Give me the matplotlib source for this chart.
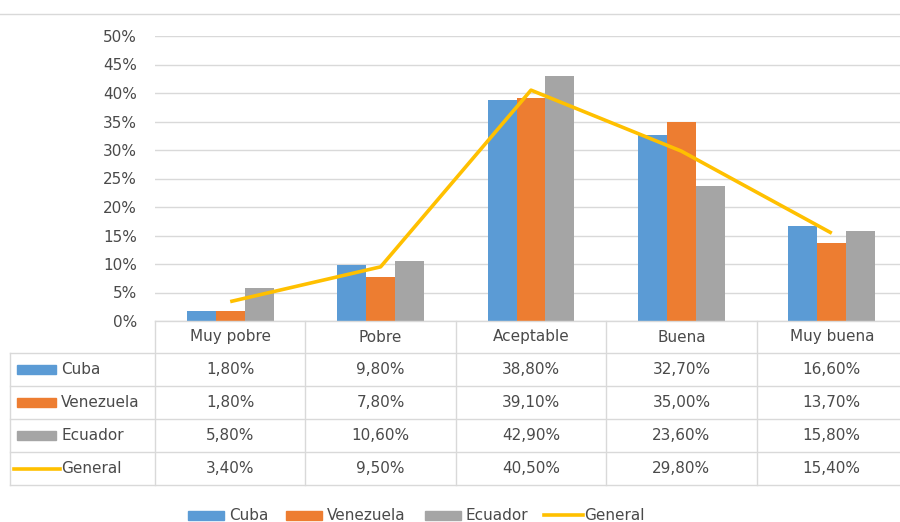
import matplotlib
matplotlib.use('Agg')
import matplotlib.pyplot as plt
from matplotlib.lines import Line2D
from matplotlib.patches import Rectangle
from matplotlib.transforms import blended_transform_factory
import numpy as np

categories = ['Muy pobre', 'Pobre', 'Aceptable', 'Buena', 'Muy buena']
cuba = [1.8, 9.8, 38.8, 32.7, 16.6]
venezuela = [1.8, 7.8, 39.1, 35.0, 13.7]
ecuador = [5.8, 10.6, 42.9, 23.6, 15.8]
general = [3.4, 9.5, 40.5, 29.8, 15.4]
series_names = ['Cuba', 'Venezuela', 'Ecuador', 'General']
colors = ['#5B9BD5', '#ED7D31', '#A5A5A5', '#FFC000']
yticks = [0, 5, 10, 15, 20, 25, 30, 35, 40, 45, 50]

W, H = 900, 522
fig = plt.figure(figsize=(W / 100, H / 100), dpi=100)
plt.rcParams['font.family'] = 'DejaVu Sans'
txt = '#4a4a4a'
grid = '#D9D9D9'
fs = 11

def fx(px):
    return px / W

def fy(py):
    return 1 - py / H

# plot area (runs past the right edge, as in the cropped original)
left, right, top, bottom = 155, 907, 36, 321
ax = fig.add_axes([fx(left), fy(bottom), fx(right - left), (bottom - top) / H])

x = np.arange(len(categories))
bw = 1 / (3 + 2.19)
for i, vals in enumerate([cuba, venezuela, ecuador]):
    ax.bar(x + (i - 1) * bw, vals, bw, color=colors[i], zorder=2)
ax.plot(x, general, color=colors[3], lw=2.6, zorder=3, solid_capstyle='butt')

ax.set_xlim(-0.5, len(categories) - 0.5)
ax.set_ylim(0, 50)
ax.set_yticks(yticks)
ax.set_yticklabels([f'{t}%' for t in yticks], color=txt, fontsize=fs)
ax.tick_params(axis='y', length=0, pad=13)
ax.set_xticks([])
ax.grid(axis='y', color=grid, lw=1, zorder=0)
for s in ax.spines.values():
    s.set_visible(False)

# top border line
fig.add_artist(Line2D([0, 1], [fy(13.5), fy(13.5)], color=grid, lw=1))

# data table
tr = blended_transform_factory(ax.transData, fig.transFigure)
row_lines = [321, 353, 386, 419, 452, 485]
tab_left = 9.5
for k, yl in enumerate(row_lines):
    x0 = fx(left) if k == 0 else fx(tab_left)
    fig.add_artist(Line2D([x0, 1], [fy(yl), fy(yl)], color=grid, lw=1))
fig.add_artist(Line2D([fx(tab_left)] * 2, [fy(353), fy(485)], color=grid, lw=1))
for b in np.arange(len(categories) + 1) - 0.5:
    fig.add_artist(Line2D([b, b], [fy(321), fy(485)], color=grid, lw=1, transform=tr))

for i, c in enumerate(categories):
    fig.text(x[i], fy(337), c, transform=tr, ha='center', va='center', color=txt, fontsize=fs)

rows = [cuba, venezuela, ecuador, general]
for r, vals in enumerate(rows):
    yc = (row_lines[r + 1] + row_lines[r + 2]) / 2
    for i, v in enumerate(vals):
        s = f'{v:.2f}%'.replace('.', ',')
        fig.text(x[i], fy(yc), s, transform=tr, ha='center', va='center', color=txt, fontsize=fs)
    if r < 3:
        fig.add_artist(Rectangle((fx(17), fy(yc + 4.5)), fx(39), 9 / H, color=colors[r]))
    else:
        fig.add_artist(Line2D([fx(14), fx(60)], [fy(yc), fy(yc)], color=colors[r], lw=2.6))
    fig.text(fx(61), fy(yc), series_names[r], ha='left', va='center', color=txt, fontsize=fs)

# bottom legend
leg_y = 515
leg = [(188, 229), (286, 327), (425, 465), (544, 584)]
for r, (kx, tx) in enumerate(leg):
    if r < 3:
        fig.add_artist(Rectangle((fx(kx), fy(leg_y + 4.5)), fx(36), 9 / H, color=colors[r]))
    else:
        fig.add_artist(Line2D([fx(kx), fx(kx + 39)], [fy(leg_y), fy(leg_y)], color=colors[r], lw=2.6))
    fig.text(fx(tx), fy(leg_y), series_names[r], ha='left', va='center', color=txt, fontsize=fs)

fig.savefig('out.png', dpi=100)
